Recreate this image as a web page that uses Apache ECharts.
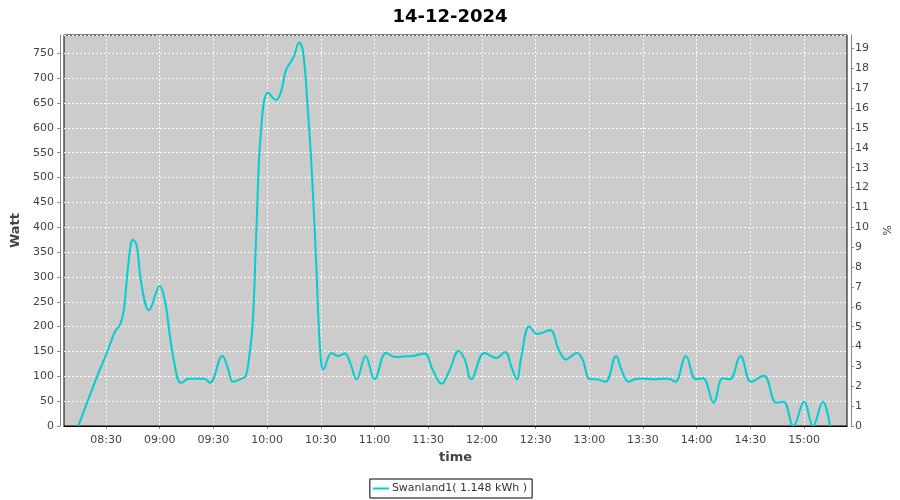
<!DOCTYPE html>
<html>
<head>
<meta charset="utf-8">
<script src="https://cdn.jsdelivr.net/npm/echarts@6/dist/echarts.min.js"></script>
<style>
html,body{margin:0;padding:0;background:#fff;}
#chart{width:900px;height:500px;}
</style>
</head>
<body>
<div id="chart"></div>
<script>
// ---- data ----
const title = "14-12-2024";
const seriesName = "Swanland1( 1.148 kWh )";
const times = [
  "08:14:30","08:25","08:30","08:35","08:38","08:40","08:42:30","08:45","08:47","08:50",
  "08:54","09:00","09:03","09:06","09:10","09:12","09:16","09:20","09:25","09:28",
  "09:35","09:38","09:41","09:46","09:48","09:50","09:52","09:54","09:56:30","10:00:30",
  "10:05","10:08","10:10:30","10:14:30","10:18","10:20","10:22:30","10:25","10:27:30","10:29:30",
  "10:31:30","10:36","10:39:30","10:43:30","10:46:30","10:50","10:55","11:00","11:06:30","11:11:30",
  "11:16:30","11:21:30","11:28","11:32:30","11:37:30","11:42","11:47","11:50:30","11:54","12:01:30",
  "12:08","12:13","12:16:30","12:19:30","12:22","12:26:30","12:31","12:38","12:43","12:47",
  "12:53","12:56","13:00:30","13:04","13:09","13:15","13:18","13:22","13:26:30","13:31",
  "13:36","13:41","13:44:30","13:48","13:54","13:59:30","14:03:30","14:09:30","14:14:30","14:18:30",
  "14:24:30","14:30:30","14:37:30","14:44:30","14:48:30","14:54","15:00","15:05","15:10:30","15:14:30"
];
const watts = [
  0,100,143,190,205,235,328,375,365,280,
  233,282,250,173,95,87,95,95,95,87,
  141,117,89,96,100,140,210,394,590,671,
  656,676,716,740,772,755,650,510,320,160,
  114,147,141,146,126,94,141,94,147,139,
  140,141,146,113,85,113,151,133,94,147,
  137,149,119,94,139,200,185,193,153,134,
  147,136,94,94,89,141,113,89,95,95,
  94,95,95,89,141,94,96,47,96,94,
  141,89,101,47,49,0,49,0,49,0
];
const timeTicks = ["08:30","09:00","09:30","10:00","10:30","11:00","11:30","12:00","12:30","13:00","13:30","14:00","14:30","15:00"];
const xMinTime = "08:06:30";
const xMaxTime = "15:24:00";
const wattMax = 786.9;
const pctMax = 19.68;

// ---- helpers ----
function toMin(s){const p=s.split(":").map(Number);return p[0]*60+p[1]+(p[2]||0)/60;}
function fmt(m){const h=Math.floor(m/60+1e-9), mm=Math.round(m-h*60);return String(h).padStart(2,"0")+":"+String(mm).padStart(2,"0");}
const lineData = times.map((t,i)=>[toMin(t), watts[i]]);
const tickVals = timeTicks.map(toMin);

const FONT = '"DejaVu Sans", sans-serif';
const BOLD = '"DejaVu Sans", sans-serif';
const chart = echarts.init(document.getElementById('chart'), null, {renderer:'canvas'});
chart.setOption({
  animation:false,
  backgroundColor:'#ffffff',
  title:{text:title,left:'center',top:3,textStyle:{fontFamily:BOLD,fontWeight:'bold',fontSize:18,color:'#000'}},
  grid:{left:64,right:53,top:35,bottom:74,show:true,backgroundColor:'#CCCCCC',borderColor:'#000',borderWidth:1},
  legend:{bottom:2,left:'center',data:[seriesName],icon:'rect',itemWidth:16,itemHeight:2,itemGap:4,
    borderColor:'#000',borderWidth:1,padding:[4,5,4,3],borderRadius:0,
    textStyle:{fontFamily:FONT,fontSize:11,color:'#333',padding:[0,0,0,-2]}},
  xAxis:[{type:'value',min:toMin(xMinTime),max:toMin(xMaxTime),offset:4,
    name:'time',nameLocation:'middle',nameGap:21,
    nameTextStyle:{fontFamily:BOLD,fontWeight:'bold',fontSize:13,color:'#444'},
    axisLine:{show:true,lineStyle:{color:'#888',width:1}},
    axisTick:{show:true,length:3,lineStyle:{color:'#888'},customValues:tickVals},
    axisLabel:{customValues:tickVals,formatter:v=>fmt(v),fontFamily:FONT,fontSize:11,color:'#444',margin:5},
    splitLine:{show:true,lineStyle:{color:'#fff',type:[2,2],width:1}}
  },{type:'value',min:toMin(xMinTime),max:toMin(xMaxTime),position:'top',z:10,offset:0,
    axisLine:{show:true,lineStyle:{color:'#000',width:1}},axisTick:{show:false},axisLabel:{show:false},splitLine:{show:false}}],
  yAxis:[
    {type:'value',min:0,max:wattMax,interval:50,offset:4,position:'left',
     name:'Watt',nameLocation:'middle',nameGap:27,
     nameTextStyle:{fontFamily:BOLD,fontWeight:'bold',fontSize:13,color:'#444'},
     axisLine:{show:true,lineStyle:{color:'#888'}},
     axisTick:{show:true,length:3,lineStyle:{color:'#888'}},
     axisLabel:{fontFamily:FONT,fontSize:11,color:'#444',margin:6,showMaxLabel:false},
     splitLine:{show:true,lineStyle:{color:'#fff',type:[2,2],width:1}}},
    {type:'value',min:0,max:pctMax,interval:1,offset:4,position:'right',
     name:'%',nameLocation:'middle',nameGap:20,nameRotate:-90,
     nameTextStyle:{fontFamily:FONT,fontSize:11,color:'#444'},
     axisLine:{show:true,lineStyle:{color:'#888'}},
     axisTick:{show:true,length:3,lineStyle:{color:'#888'}},
     axisLabel:{fontFamily:FONT,fontSize:11,color:'#444',margin:4,showMaxLabel:false},
     splitLine:{show:false}}
  ],
  series:[{name:seriesName,type:'line',xAxisIndex:0,yAxisIndex:0,data:lineData,smooth:0.4,showSymbol:false,
    lineStyle:{color:'#00CED1',width:2},itemStyle:{color:'#00CED1'},clip:true}]
});
</script>
</body>
</html>
